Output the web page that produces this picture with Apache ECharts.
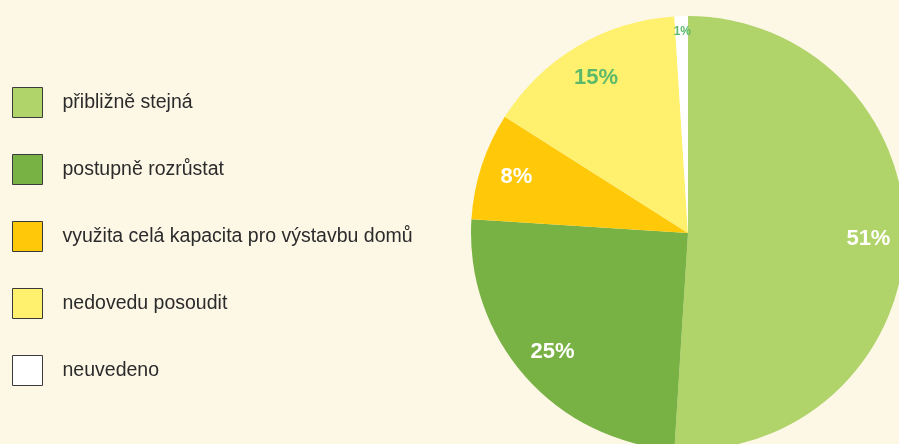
<!DOCTYPE html>
<html>
<head>
<meta charset="utf-8">
<script src="https://cdn.jsdelivr.net/npm/echarts@6/dist/echarts.min.js"></script>
<style>
	html, body { margin: 0; padding: 0; background: #fdf7e6; }
	#chart { width: 899px; height: 444px; }
</style>
</head>
<body>
<div id="chart"></div>
<script>
// odpovědi - podíl v %
var categories = ['přibližně stejná', 'postupně rozrůstat', 'využita celá kapacita pro výstavbu domů', 'nedovedu posoudit', 'neuvedeno']
var values = [51, 25, 8, 15, 1]
var colors = ['#b0d36a', '#78b144', '#ffc90a', '#fff16e', '#ffffff']
var labelColors = ['#ffffff', '#ffffff', '#ffffff', '#5cb96a', '#5cb96a']

var chart = echarts.init(document.getElementById('chart'))

var fillData = categories.map(function (name, i) {
	return { name: name, value: values[i], itemStyle: { color: colors[i] } }
})
var labelData = categories.map(function (name, i) {
	return {
		name: name,
		value: values[i],
		label: { color: labelColors[i], fontSize: i === 4 ? 12 : 22 }
	}
})

chart.setOption({
	backgroundColor: '#fdf7e6',
	animation: false,
	legend: {
		orient: 'vertical',
		left: 12,
		top: 87,
		padding: 0,
		itemWidth: 30,
		itemHeight: 30,
		itemGap: 36,
		icon: 'rect',
		data: categories,
		itemStyle: {
			borderColor: '#3a3a3a',
			borderWidth: 1
		},
		textStyle: {
			fontFamily: 'Liberation Sans, Arial, sans-serif',
			fontSize: 19.5,
			color: '#2b2b2b',
			padding: [0, 0, 0, 15]
		}
	},
	series: [
		{
			type: 'pie',
			center: [688, 233],
			radius: [0, 217],
			startAngle: 90,
			silent: true,
			label: { show: false },
			labelLine: { show: false },
			data: fillData
		},
		{
			// jen popisky v prstenci
			type: 'pie',
			center: [688, 233],
			radius: [138, 217],
			startAngle: 90,
			silent: true,
			itemStyle: { color: 'rgba(0,0,0,0)' },
			label: {
				show: true,
				position: 'inside',
				formatter: '{c}%',
				fontFamily: 'Liberation Sans, Arial, sans-serif',
				fontWeight: 'bold'
			},
			labelLine: { show: false },
			labelLayout: function (params) {
				if (params.dataIndex === 4) {
					return { dy: -21 }
				}
			},
			data: labelData
		}
	]
})
</script>
</body>
</html>
